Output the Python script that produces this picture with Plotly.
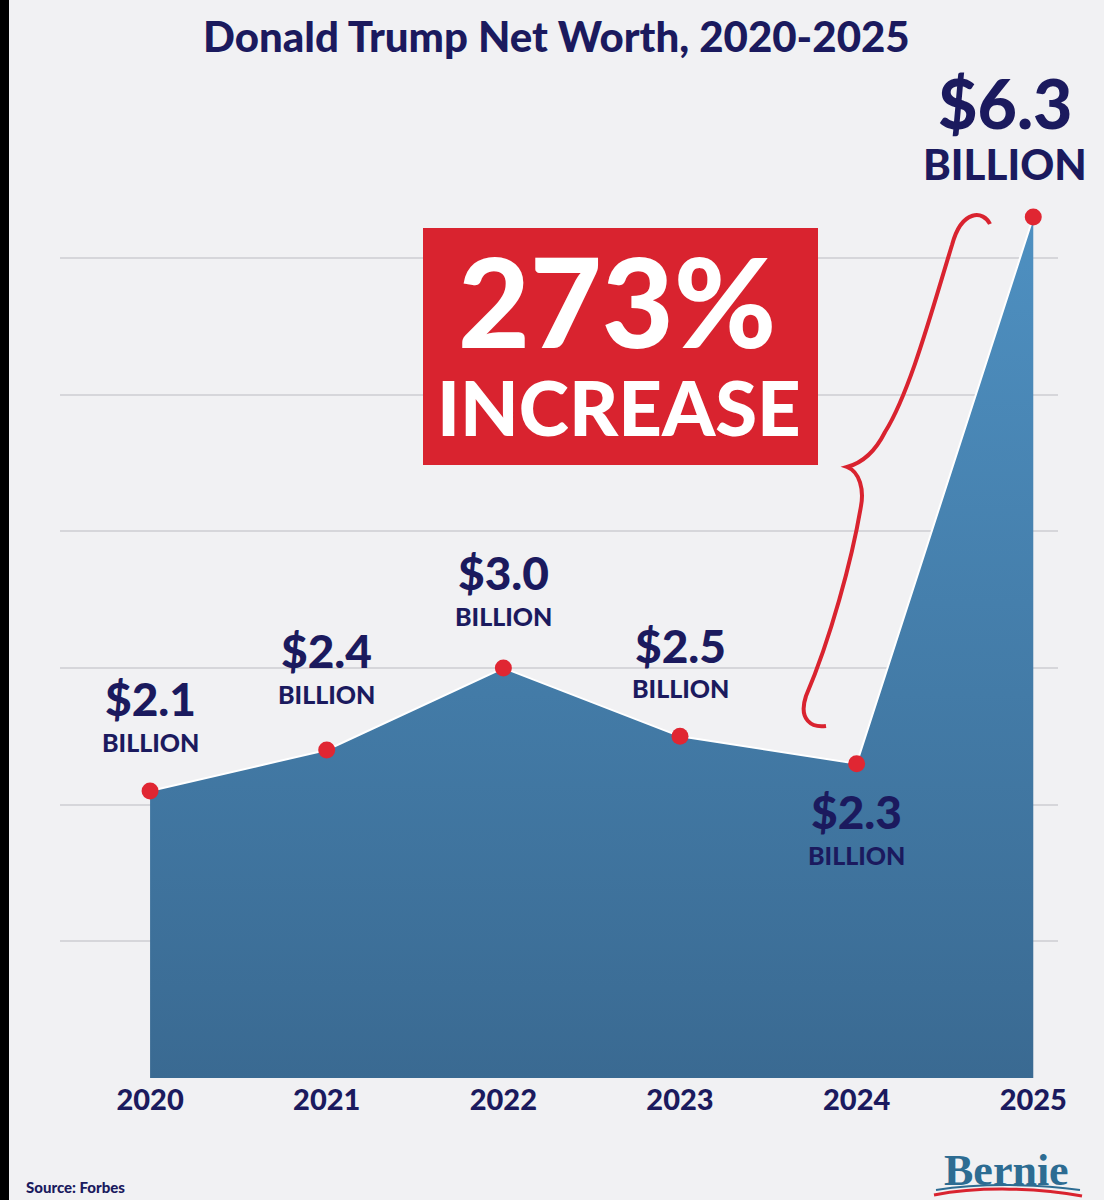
import plotly.graph_objects as go

# ---------------- data ----------------
years = [2020, 2021, 2022, 2023, 2024, 2025]
net_worth = [2.1, 2.4, 3.0, 2.5, 2.3, 6.3]          # $ billions
value_labels = ["$2.1", "$2.4", "$3.0", "$2.5", "$2.3", "$6.3"]
unit_label = "BILLION"
grid_values = [0, 1, 2, 3, 4, 5, 6]
title_text = "Donald Trump Net Worth, 2020-2025"
callout_lines = ["273%", "INCREASE"]
source_text = "Source: Forbes"
brand_text = "Bernie"

# ---------------- styling / layout ----------------
W, H = 1104, 1200
M_L, M_R, M_T, M_B = 60, 46, 80, 122
PLOT_W = W - M_L - M_R
PLOT_H = H - M_T - M_B
X_RANGE = [2019.49, 2025.14]
Y_RANGE = [0, PLOT_H / 136.67]

NAVY = "#1b1a5e"
RED = "#d9232f"
DOT = "#e02632"
BG = "#f1f1f3"
FONT = "Lato"
HEAVY = 900

# label offsets (pixels) relative to each point
val_dx = [0, 0, 0, 0, 0, -28]
val_dy = [92, 99, 95, 91, -48, 114]
bil_dy = [49, 56, 52, 48, -91, 53]
val_size = [46, 46, 46, 46, 46, 68]
bil_size = [25, 25, 25, 25, 25, 42]


def px(xp):
    return (xp - M_L) / PLOT_W


def py(yp):
    return (M_T + PLOT_H - yp) / PLOT_H


fig = go.Figure()
fig.add_trace(go.Scatter(
    x=years, y=net_worth,
    mode="lines+markers",
    fill="tozeroy",
    fillgradient=dict(type="vertical",
                      colorscale=[[0, "#3a6a92"], [1, "#4e90c1"]],
                      start=0, stop=max(net_worth)),
    line=dict(color="#ffffff", width=2),
    marker=dict(color=DOT, size=17),
    hoverinfo="skip",
    showlegend=False,
))

annotations = []
for i, (x, y) in enumerate(zip(years, net_worth)):
    annotations.append(dict(
        x=x, y=y, xref="x", yref="y", text=value_labels[i],
        showarrow=False, xshift=val_dx[i], yshift=val_dy[i],
        font=dict(family=FONT, size=val_size[i], color=NAVY, weight=HEAVY),
        xanchor="center", yanchor="middle"))
    annotations.append(dict(
        x=x, y=y, xref="x", yref="y", text=unit_label,
        showarrow=False, xshift=val_dx[i], yshift=bil_dy[i],
        font=dict(family=FONT, size=bil_size[i], color=NAVY, weight=HEAVY),
        xanchor="center", yanchor="middle"))

# title
annotations.append(dict(
    x=px(556), y=py(36), xref="paper", yref="paper",
    text=title_text, showarrow=False,
    font=dict(family=FONT, size=42, color=NAVY, weight=HEAVY),
    xanchor="center", yanchor="middle"))

# callout box text
annotations.append(dict(
    x=px(617), y=py(300), xref="paper", yref="paper",
    text=callout_lines[0], showarrow=False, height=108,
    font=dict(family=FONT, size=124, color="#ffffff", weight=HEAVY),
    xanchor="center", yanchor="middle"))
annotations.append(dict(
    x=px(619), y=py(406), xref="paper", yref="paper",
    text=callout_lines[1], showarrow=False, height=70,
    font=dict(family=FONT, size=76, color="#ffffff", weight=HEAVY),
    xanchor="center", yanchor="middle"))

# source
annotations.append(dict(
    x=px(24), y=py(1187), xref="paper", yref="paper",
    text=source_text, showarrow=False,
    font=dict(family=FONT, size=15, color=NAVY, weight=HEAVY),
    xanchor="left", yanchor="middle"))

# brand
annotations.append(dict(
    x=px(1006), y=py(1170), xref="paper", yref="paper",
    text="<b>%s</b>" % brand_text, showarrow=False,
    font=dict(family="Liberation Serif", size=44, color="#2d6c92"),
    xanchor="center", yanchor="middle"))


def path_from(points_cmds):
    out = []
    for cmd, pts in points_cmds:
        coords = " ".join("%.5f,%.5f" % (px(a), py(b)) for a, b in pts)
        out.append("%s %s" % (cmd, coords))
    return " ".join(out)


brace = path_from([
    ("M", [(990, 224)]),
    ("C", [(984, 211), (962, 208), (952, 245)]),
    ("C", [(932, 310), (910, 392), (885, 432)]),
    ("C", [(875, 452), (862, 463), (847, 467)]),
    ("C", [(860, 472), (864, 490), (861, 506)]),
    ("C", [(852, 560), (830, 640), (806, 696)]),
    ("C", [(798, 720), (812, 728), (826, 726)]),
])

swoosh_red = path_from([
    ("M", [(934, 1195)]),
    ("C", [(980, 1186), (1040, 1188), (1082, 1196)]),
])
swoosh_blue = path_from([
    ("M", [(936, 1190)]),
    ("C", [(980, 1183), (1040, 1184), (1080, 1190)]),
])

shapes = [
    # left black strip
    dict(type="rect", xref="paper", yref="paper",
         x0=px(0), x1=px(9), y0=py(H), y1=py(0),
         fillcolor="#000000", line=dict(width=0), layer="above"),
    # callout box
    dict(type="rect", xref="paper", yref="paper",
         x0=px(423), x1=px(818), y0=py(465), y1=py(228),
         fillcolor=RED, line=dict(width=0), layer="above"),
    dict(type="path", xref="paper", yref="paper", path=brace,
         line=dict(color=RED, width=4), layer="above"),
    dict(type="path", xref="paper", yref="paper", path=swoosh_blue,
         line=dict(color="#2d6c92", width=2), layer="above"),
    dict(type="path", xref="paper", yref="paper", path=swoosh_red,
         line=dict(color=RED, width=3), layer="above"),
]

fig.update_layout(
    width=W, height=H,
    margin=dict(l=M_L, r=M_R, t=M_T, b=M_B, pad=0),
    paper_bgcolor=BG, plot_bgcolor=BG,
    showlegend=False,
    annotations=annotations,
    shapes=shapes,
    xaxis=dict(range=X_RANGE, tickvals=years, ticktext=[str(y) for y in years],
               showgrid=False, zeroline=False, showline=False, ticks="",
               tickfont=dict(family=FONT, size=29, color=NAVY, weight=HEAVY),
               ticklabelstandoff=2, fixedrange=True),
    yaxis=dict(range=Y_RANGE, tickvals=grid_values, showticklabels=False,
               showgrid=True, gridcolor="#d6d6da", gridwidth=2,
               zeroline=False, showline=False, ticks="", fixedrange=True),
)

fig.write_html("out.html", config={"displayModeBar": False})
